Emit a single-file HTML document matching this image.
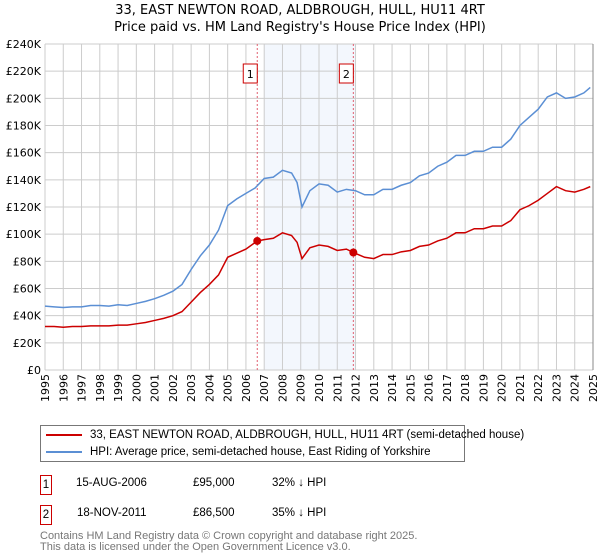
<!DOCTYPE html>
<html><head><meta charset="utf-8"><style>
body{margin:0;background:#fff;font-family:"DejaVu Sans","Liberation Sans",sans-serif;}
#wrap{position:relative;width:600px;height:560px;overflow:hidden}
.t{position:absolute;white-space:nowrap}
.lib{font-family:"Liberation Sans",sans-serif}
</style></head><body><div id="wrap">
<div class="t" style="left:0;width:600px;text-align:center;top:2px;font-size:13px;line-height:17px;color:#000">33, EAST NEWTON ROAD, ALDBROUGH, HULL, HU11 4RT<br>Price paid vs. HM Land Registry's House Price Index (HPI)</div>
<svg id="chart" width="600" height="420" style="position:absolute;left:0;top:0" font-family="DejaVu Sans, Liberation Sans, sans-serif"></svg>
<div class="lib" style="position:absolute;left:40px;top:425px;width:423px;height:35px;border:1px solid #777">
 <div class="t" style="left:5px;top:3px;font-size:11.5px;"><span style="display:inline-block;width:36px;height:2px;background:#cc0000;vertical-align:middle;margin-right:8px"></span>33, EAST NEWTON ROAD, ALDBROUGH, HULL, HU11 4RT (semi-detached house)</div>
 <div class="t" style="left:5px;top:20px;font-size:11.5px;"><span style="display:inline-block;width:36px;height:2px;background:#5b8fd4;vertical-align:middle;margin-right:8px"></span>HPI: Average price, semi-detached house, East Riding of Yorkshire</div>
</div>
<div class="lib">
 <div class="t" style="left:40px;top:475px;width:10px;height:18px;border:1px solid #c00;font-size:11.5px;text-align:center;line-height:18px">1</div>
 <div class="t" style="left:76px;top:477px;font-size:11.5px">15-AUG-2006</div>
 <div class="t" style="left:193px;top:477px;font-size:11.5px">£95,000</div>
 <div class="t" style="left:272px;top:477px;font-size:11.5px">32% ↓ HPI</div>
</div>
<div class="lib">
 <div class="t" style="left:40px;top:505px;width:10px;height:18px;border:1px solid #c00;font-size:11.5px;text-align:center;line-height:18px">2</div>
 <div class="t" style="left:77px;top:507px;font-size:11.5px">18-NOV-2011</div>
 <div class="t" style="left:193px;top:507px;font-size:11.5px">£86,500</div>
 <div class="t" style="left:272px;top:507px;font-size:11.5px">35% ↓ HPI</div>
</div>
<div class="t lib" style="left:40px;top:531px;font-size:11px;line-height:10.5px;color:#777">Contains HM Land Registry data © Crown copyright and database right 2025.<br>This data is licensed under the Open Government Licence v3.0.</div>
</div>
<script>
const yTicks=[0,20,40,60,80,100,120,140,160,180,200,220,240];
const xYears=[1995,1996,1997,1998,1999,2000,2001,2002,2003,2004,2005,2006,2007,2008,2009,2010,2011,2012,2013,2014,2015,2016,2017,2018,2019,2020,2021,2022,2023,2024,2025];
const hpiYears=[1995,1995.5,1996,1996.5,1997,1997.5,1998,1998.5,1999,1999.5,2000,2000.5,2001,2001.5,2002,2002.5,2003,2003.5,2004,2004.5,2005,2005.5,2006,2006.5,2007,2007.5,2008,2008.5,2008.8,2009.07,2009.5,2010,2010.5,2011,2011.5,2012,2012.5,2013,2013.5,2014,2014.5,2015,2015.5,2016,2016.5,2017,2017.5,2018,2018.5,2019,2019.5,2020,2020.5,2021,2021.5,2022,2022.5,2023,2023.5,2024,2024.5,2024.85];
const hpiValues=[47,46.5,46,46.5,46.5,47.5,47.5,47,48,47.5,49,50.5,52.5,55,58,63,74,84,92,103,121,126,130,134,141,142,147,145,138,120,132,137,136,131,133,132,129,129,133,133,136,138,143,145,150,153,158,158,161,161,164,164,170,180,186,192,201,204,200,201,204,208];
const ppYears=[1995,1995.5,1996,1996.5,1997,1997.5,1998,1998.5,1999,1999.5,2000,2000.5,2001,2001.5,2002,2002.5,2003,2003.5,2004,2004.5,2005,2005.5,2006,2006.62,2007,2007.5,2008,2008.5,2008.8,2009.07,2009.5,2010,2010.5,2011,2011.5,2011.88,2012.5,2013,2013.5,2014,2014.5,2015,2015.5,2016,2016.5,2017,2017.5,2018,2018.5,2019,2019.5,2020,2020.5,2021,2021.5,2022,2022.5,2023,2023.5,2024,2024.5,2024.85];
const ppValues=[32,32,31.5,32,32,32.5,32.5,32.5,33,33,34,35,36.5,38,40,43,50,57,63,70,83,86,89,95,96,97,101,99,94,82,90,92,91,88,89,86.5,83,82,85,85,87,88,91,92,95,97,101,101,104,104,106,106,110,118,121,125,130,135,132,131,133,135];
const sales=[{n:"1",yr:2006.62,v:95},{n:"2",yr:2011.88,v:86.5}];
const svg=document.getElementById('chart');const NS='http://www.w3.org/2000/svg';
const X0=45,X1=593,Y0=370,Y1=44;
const sx=y=>X0+(y-1995)/(2025-1995)*(X1-X0);
const sy=v=>Y0-v/240*(Y0-Y1);
function mk(t,a){const e=document.createElementNS(NS,t);for(const k in a)e.setAttribute(k,a[k]);svg.appendChild(e);return e;}
let e=mk('rect',{x:sx(2007),y:Y1,width:sx(2012)-sx(2007),height:Y0-Y1,fill:'#eef3fc',opacity:0.7});


yTicks.forEach(v=>{
 let l=mk('line',{x1:X0,x2:X1,y1:sy(v),y2:sy(v),stroke:'#ccc'});
 
 
 let t=mk('text',{x:X0-4,y:sy(v)+4,'text-anchor':'end','font-size':11,fill:'#000'});
 t.textContent=v===0?'£0':'£'+v+'K';
 
 
});
xYears.forEach(y=>{
 let l=mk('line',{x1:sx(y),x2:sx(y),y1:Y1,y2:Y0,stroke:'#ccc'});
 
 
 let t=mk('text',{transform:`translate(${sx(y)+4},${Y0+4}) rotate(-90)`,'text-anchor':'end','font-size':11,fill:'#000'});
 t.textContent=y;
 
 
});
sales.forEach(s=>{
 let l=mk('line',{x1:sx(s.yr),x2:sx(s.yr),y1:Y1,y2:Y0,stroke:'#e06070','stroke-dasharray':'2,2'});
 
 
 let r=mk('rect',{x:sx(s.yr)-14,y:64,width:14,height:19,fill:'#fff',stroke:'#c00'});
 
 
 let t=mk('text',{x:sx(s.yr)-7,y:78,'text-anchor':'middle','font-size':11});
 t.textContent=s.n;
 
 
});
function line(xs,vs,c,n){let p=mk('polyline',{points:xs.map((y,i)=>sx(y)+','+sy(vs[i])).join(' '),fill:'none',stroke:c,'stroke-width':1.5});
 
 }
line(hpiYears,hpiValues,'#5b8fd4','hpi-line');
line(ppYears,ppValues,'#cc0000','price-paid-line');
sales.forEach(s=>{let c=mk('circle',{cx:sx(s.yr),cy:sy(s.v),r:4,fill:'#cc0000'});
 
 });
let ax=mk('line',{x1:X1,x2:X1,y1:Y1,y2:Y0,stroke:'#888'});


</script></body></html>
